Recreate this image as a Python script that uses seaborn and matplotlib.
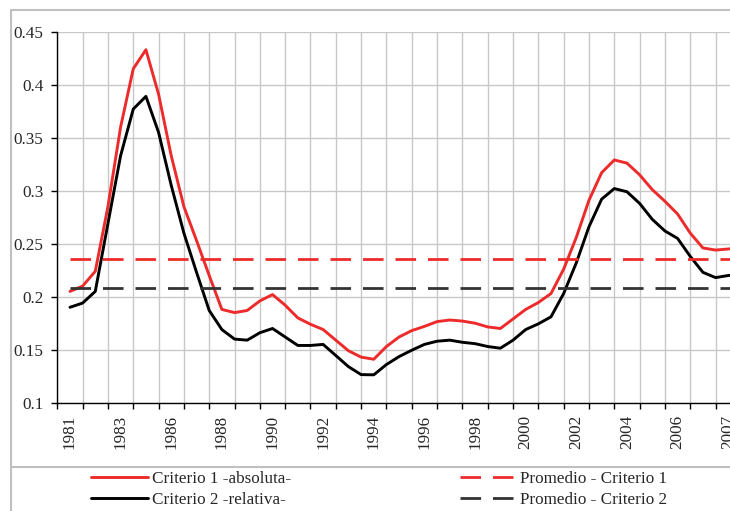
import matplotlib
matplotlib.use('Agg')

import matplotlib.pyplot as plt
from matplotlib.lines import Line2D
from matplotlib.patches import Rectangle
import numpy as np
import pandas as pd
import seaborn as sns

# etiquetas del eje (una cada dos categorias)
etiquetas = ['1981', '1983', '1986', '1988', '1990', '1992', '1994',
             '1996', '1998', '2000', '2002', '2004', '2006', '2007']

# valores leidos cada media categoria
criterio1 = [0.205, 0.210, 0.224, 0.285, 0.360, 0.415, 0.433, 0.391, 0.333, 0.285,
             0.253, 0.220, 0.188, 0.185, 0.187, 0.196, 0.202, 0.192, 0.180, 0.174,
             0.169, 0.159, 0.149, 0.143, 0.141, 0.153, 0.162, 0.168, 0.172, 0.1765,
             0.178, 0.177, 0.175, 0.1715, 0.170, 0.179, 0.188, 0.1945, 0.203, 0.226,
             0.256, 0.291, 0.317, 0.329, 0.326, 0.315, 0.301, 0.290, 0.278, 0.260,
             0.246, 0.244, 0.245, 0.246]
criterio2 = [0.190, 0.194, 0.205, 0.269, 0.333, 0.377, 0.389, 0.355, 0.305, 0.260,
             0.223, 0.187, 0.169, 0.160, 0.159, 0.166, 0.170, 0.162, 0.154, 0.154,
             0.155, 0.1445, 0.134, 0.1265, 0.1263, 0.136, 0.1435, 0.1495, 0.155, 0.158,
             0.159, 0.157, 0.1557, 0.153, 0.1514, 0.159, 0.169, 0.1744, 0.181, 0.203,
             0.232, 0.266, 0.292, 0.302, 0.299, 0.288, 0.273, 0.262, 0.255, 0.238,
             0.223, 0.218, 0.220, 0.221]
promedio1 = 0.236
promedio2 = 0.208

series = ['Criterio 1 -absoluta-', 'Criterio 2 -relativa-']
promedios = ['Promedio - Criterio 1', 'Promedio - Criterio 2']

ROJO = '#ED2B2B'
NEGRO = '#000000'
GRIS_OSC = '#333333'
GRIS = '#C8C8C8'
FS = 12.3

sns.set_style('white')
plt.rcParams['font.family'] = ['Liberation Serif', 'DejaVu Serif']
plt.rcParams['font.size'] = FS

n = len(criterio1)
paso = np.arange(n) / 2.0
df = pd.DataFrame({'paso': np.concatenate([paso, paso]),
                   'valor': criterio1 + criterio2,
                   'serie': [series[0]] * n + [series[1]] * n})

W, H = 730, 511
fig = plt.figure(figsize=(W / 100, H / 100), dpi=100)
ax = fig.add_axes([57.3 / W, 1 - 402.7 / H, 1 - 57.3 / W, (402.7 - 31.7) / H])

sns.lineplot(data=df, x='paso', y='valor', hue='serie', palette=[ROJO, NEGRO],
             linewidth=2.1, legend=False, ax=ax)
ax.plot(paso, np.full(n, promedio1), color=ROJO, lw=2, dashes=(7.4, 4.3))
ax.plot(paso, np.full(n, promedio2), color=GRIS_OSC, lw=2, dashes=(7.4, 4.3))

ax.set_xlabel('')
ax.set_ylabel('')

yt = np.round(np.arange(0.1, 0.4501, 0.05), 2)
ax.set_yticks(yt)
ax.set_yticklabels(['%g' % v for v in yt])

ax.set_xticks(np.arange(-0.5, 26.0, 1))
ax.set_xticks(np.arange(0, 27, 2), minor=True)
ax.set_xticklabels(etiquetas, minor=True)
ax.set_xlim(-0.5, 26.07)
ax.set_ylim(0.1, 0.45)
ax.tick_params(axis='x', which='major', labelbottom=False, length=4, width=1,
               direction='out', color='black', bottom=True)
ax.tick_params(axis='x', which='minor', length=0, pad=9, labelrotation=90,
               labelsize=FS)
ax.tick_params(axis='y', length=4, width=1, direction='out', color='black',
               left=True, pad=6, labelsize=FS)

ax.grid(True, which='major', color=GRIS, lw=1)
ax.set_axisbelow(True)
for s in ['top', 'right']:
    ax.spines[s].set_visible(False)
for s in ['left', 'bottom']:
    ax.spines[s].set_color('black')
    ax.spines[s].set_linewidth(1)

# marco exterior y separador de la leyenda
fig.patches.append(Rectangle((11 / W, -0.1), 1.0, 1.1 - 10 / H, transform=fig.transFigure,
                             fill=False, edgecolor='#C0C0C0', lw=1.5))
fig.add_artist(Line2D([11 / W, 1], [1 - 467.3 / H] * 2, transform=fig.transFigure,
                      color='#C0C0C0', lw=1.5))

h_sol = [Line2D([], [], color=ROJO, lw=2.1), Line2D([], [], color=NEGRO, lw=2.1)]
h_dash = [Line2D([], [], color=ROJO, lw=2, dashes=(7.4, 4.3)),
          Line2D([], [], color=GRIS_OSC, lw=2, dashes=(7.4, 4.3))]
fig.legend(h_sol, series, loc='upper left', bbox_to_anchor=(90.5 / W, 1 - 470.5 / H),
           frameon=False, handlelength=3.36, handletextpad=0.23, labelspacing=0.3,
           borderpad=0, borderaxespad=0, fontsize=FS)
fig.legend(h_dash, promedios, loc='upper left', bbox_to_anchor=(460 / W, 1 - 470.5 / H),
           frameon=False, handlelength=3.13, handletextpad=0.38, labelspacing=0.3,
           borderpad=0, borderaxespad=0, fontsize=FS)

fig.savefig('out.png', dpi=100)
